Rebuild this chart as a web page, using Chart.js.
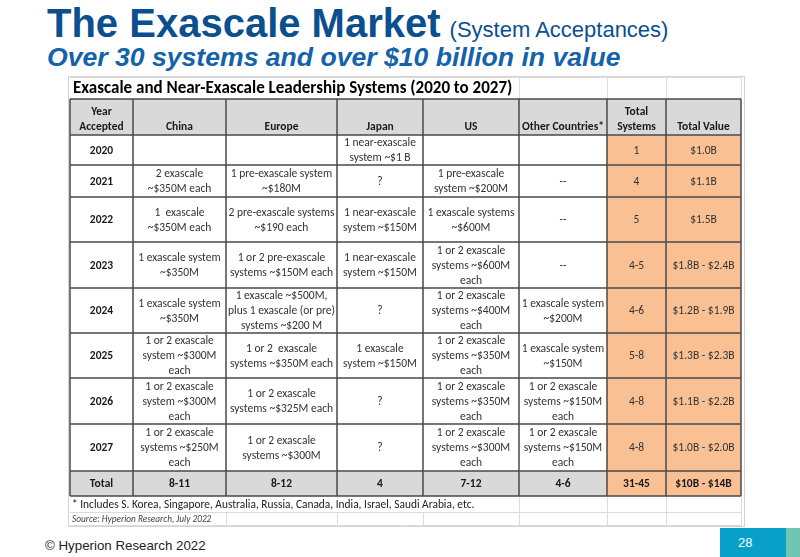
<!DOCTYPE html>
<html>
<head>
<meta charset="utf-8">
<script src="https://cdn.jsdelivr.net/npm/chart.js@4.4.1/dist/chart.umd.min.js"></script>
<style>
  html, body { margin: 0; padding: 0; background: #fff; }
  body { width: 800px; height: 557px; position: relative; overflow: hidden; font-family: "Liberation Sans", Arial, sans-serif; }
  #title { position: absolute; left: 47px; top: 1px; color: #0b4f8e; white-space: nowrap; }
  #title .big { font-weight: bold; font-size: 40px; }
  #title .small { font-size: 22px; margin-left: 9px; }
  #subtitle { position: absolute; left: 47px; top: 42px; color: #1462a9; font-weight: bold; font-style: italic; font-size: 26.6px; white-space: nowrap; }
  #wrap { position: absolute; left: 68px; top: 76px; width: 678px; height: 452px; }
  #footer { position: absolute; left: 45px; top: 538px; font-size: 13.3px; color: #222; font-family: "Liberation Sans Narrow", "Liberation Sans", Arial, sans-serif; }
  #page { position: absolute; left: 720px; top: 528px; width: 66px; height: 29px; background: #08a0c9; color: #fff; font-size: 13px; }
  #page span { position: absolute; left: 18px; top: 7px; }
  #strip { position: absolute; left: 786px; top: 528px; width: 14px; height: 29px; background: #6ec6b3; }
</style>
</head>
<body>
<div id="title"><span class="big">The Exascale Market</span><span class="small">(System Acceptances)</span></div>
<div id="subtitle">Over 30 systems and over $10 billion in value</div>
<div id="wrap"><canvas id="tbl"></canvas></div>
<div id="footer">© Hyperion Research 2022</div>
<div id="page"><span>28</span></div>
<div id="strip"></div>
<script>
// 表格标题
var tableTitle = "Exascale and Near-Exascale Leadership Systems (2020 to 2027)";
var footNote = "* Includes S. Korea, Singapore, Australia, Russia, Canada, India, Israel, Saudi Arabia, etc.";
var sourceNote = "Source: Hyperion Research, July 2022";

// 列标题
var columns = ["Year\nAccepted", "China", "Europe", "Japan", "US", "Other Countries*", "Total\nSystems", "Total Value"];
// 年份
var years = ["2020", "2021", "2022", "2023", "2024", "2025", "2026", "2027"];

var china = ["", "2 exascale\n~$350M each", "1  exascale\n~$350M each", "1 exascale system\n~$350M",
  "1 exascale system\n~$350M", "1 or 2 exascale\nsystem ~$300M\neach", "1 or 2 exascale\nsystem ~$300M\neach",
  "1 or 2 exascale\nsystems ~$250M\neach"];
var europe = ["", "1 pre-exascale system\n~$180M", "2 pre-exascale systems\n~$190 each",
  "1 or 2 pre-exascale\nsystems ~$150M each", "1 exascale ~$500M,\nplus 1 exascale (or pre)\nsystems ~$200 M",
  "1 or 2  exascale\nsystems ~$350M each", "1 or 2 exascale\nsystems ~$325M each", "1 or 2 exascale\nsystems ~$300M"];
var japan = ["1 near-exascale\nsystem ~$1 B", "?", "1 near-exascale\nsystem ~$150M", "1 near-exascale\nsystem ~$150M",
  "?", "1 exascale\nsystem ~$150M", "?", "?"];
var us = ["", "1 pre-exascale\nsystem ~$200M", "1 exascale systems\n~$600M", "1 or 2 exascale\nsystems ~$600M\neach",
  "1 or 2 exascale\nsystems ~$400M\neach", "1 or 2 exascale\nsystems ~$350M\neach", "1 or 2 exascale\nsystems ~$350M\neach",
  "1 or 2 exascale\nsystems ~$300M\neach"];
var otherCountries = ["", "--", "--", "--", "1 exascale system\n~$200M", "1 exascale system\n~$150M",
  "1 or 2 exascale\nsystems ~$150M\neach", "1 or 2 exascale\nsystems ~$150M\neach"];
var totalSystems = ["1", "4", "5", "4-5", "4-6", "5-8", "4-8", "4-8"];
var totalValue = ["$1.0B", "$1.1B", "$1.5B", "$1.8B - $2.4B", "$1.2B - $1.9B", "$1.3B - $2.3B", "$1.1B - $2.2B", "$1.0B - $2.0B"];
// 合计行
var totals = ["Total", "8-11", "8-12", "4", "7-12", "4-6", "31-45", "$10B - $14B"];

// 布局(列宽/行高)
var colWidths = [63, 93, 111, 86, 96, 88, 59, 75];
var rowHeights = { title: 22, header: 36, body: [30, 32, 45, 46, 45, 45, 46, 47], total: 25, foot: 16, source: 14 };
var offX = 2, offY = 1;
var tableFont = "Carlito, Lato, 'Open Sans', sans-serif";

var colEdges = [offX];
for (var i = 0; i < colWidths.length; i++) colEdges.push(colEdges[i] + colWidths[i]);
var rowEdges = [offY, offY + rowHeights.title, offY + rowHeights.title + rowHeights.header];
for (var i = 0; i < rowHeights.body.length; i++) rowEdges.push(rowEdges[rowEdges.length - 1] + rowHeights.body[i]);
rowEdges.push(rowEdges[rowEdges.length - 1] + rowHeights.total);
rowEdges.push(rowEdges[rowEdges.length - 1] + rowHeights.foot);
rowEdges.push(rowEdges[rowEdges.length - 1] + rowHeights.source);
// rowEdges: 0 title top,1 header top,2 body top,...,10 total top,11 foot top,12 source top,13 bottom

var bodyRows = [];
for (var r = 0; r < years.length; r++) {
  bodyRows.push([years[r], china[r], europe[r], japan[r], us[r], otherCountries[r], totalSystems[r], totalValue[r]]);
}

//画表格插件
var tablePlugin = {
  id: "tableDraw",
  afterDraw: function (chart) {
    var ctx = chart.ctx, xs = chart.scales.x, ys = chart.scales.y;
    var X = function (v) { return xs.getPixelForValue(v); };
    var Y = function (v) { return ys.getPixelForValue(v); };
    var nC = colEdges.length - 1;
    var hdrTop = rowEdges[1], bodyTop = rowEdges[2], totTop = rowEdges[10], totBot = rowEdges[11];
    ctx.save();
    // 外框
    ctx.strokeStyle = "#d4d4d4"; ctx.lineWidth = 1;
    ctx.strokeRect(X(0) + 0.5, Y(0) + 0.5, X(677) - X(0) - 1, Y(451) - Y(0) - 1);
    // 浅网格
    ctx.strokeStyle = "#dcdcdc";
    ctx.beginPath();
    ctx.moveTo(X(colEdges[0]), Y(rowEdges[0]) + 0.5); ctx.lineTo(X(colEdges[nC]), Y(rowEdges[0]) + 0.5);
    [5, 6, 7, 8].forEach(function (c) {
      ctx.moveTo(X(colEdges[c]) + 0.5, Y(rowEdges[0])); ctx.lineTo(X(colEdges[c]) + 0.5, Y(hdrTop));
      ctx.moveTo(X(colEdges[c]) + 0.5, Y(totBot)); ctx.lineTo(X(colEdges[c]) + 0.5, Y(rowEdges[13]));
    });
    [2, 3, 4].forEach(function (c) {
      ctx.moveTo(X(colEdges[c]) + 0.5, Y(rowEdges[12])); ctx.lineTo(X(colEdges[c]) + 0.5, Y(rowEdges[13]));
    });
    ctx.moveTo(X(colEdges[0]), Y(rowEdges[12]) + 0.5); ctx.lineTo(X(colEdges[nC]), Y(rowEdges[12]) + 0.5);
    ctx.moveTo(X(colEdges[0]), Y(rowEdges[13]) - 0.5); ctx.lineTo(X(colEdges[nC]), Y(rowEdges[13]) - 0.5);
    ctx.stroke();
    // 背景色
    ctx.fillStyle = "#d9d9d9";
    ctx.fillRect(X(colEdges[0]), Y(hdrTop), X(colEdges[nC]) - X(colEdges[0]), Y(bodyTop) - Y(hdrTop));
    ctx.fillRect(X(colEdges[0]), Y(totTop), X(colEdges[6]) - X(colEdges[0]), Y(totBot) - Y(totTop));
    ctx.fillStyle = "#f9c093";
    ctx.fillRect(X(colEdges[6]), Y(bodyTop), X(colEdges[8]) - X(colEdges[6]), Y(totBot) - Y(bodyTop));
    // 深色边框
    ctx.strokeStyle = "#4a4a4a"; ctx.lineWidth = 1.5;
    ctx.beginPath();
    for (var r = 1; r <= 11; r++) {
      ctx.moveTo(X(colEdges[0]), Y(rowEdges[r])); ctx.lineTo(X(colEdges[nC]), Y(rowEdges[r]));
    }
    for (var c = 0; c <= nC; c++) {
      ctx.moveTo(X(colEdges[c]), Y(hdrTop)); ctx.lineTo(X(colEdges[c]), Y(totBot));
    }
    ctx.stroke();
    // 文字
    ctx.textAlign = "left"; ctx.textBaseline = "middle";
    ctx.fillStyle = "#000";
    ctx.font = "bold 17px " + tableFont;
    ctx.fillText(tableTitle, X(colEdges[0]) + 3, (Y(rowEdges[0]) + Y(hdrTop)) / 2 + 1);
    ctx.textAlign = "center";
    var lh = 15;
    // 表头(底部对齐)
    ctx.font = "bold 11.5px " + tableFont; ctx.fillStyle = "#1a1a1a";
    columns.forEach(function (txt, c) {
      var lines = txt.split("\n");
      var cx = (X(colEdges[c]) + X(colEdges[c + 1])) / 2;
      var by = Y(bodyTop) - 8;
      for (var k = 0; k < lines.length; k++) {
        ctx.fillText(lines[k], cx, by - (lines.length - 1 - k) * lh);
      }
    });
    var drawCell = function (txt, c, top, bot) {
      var lines = txt.split("\n");
      var cx = (X(colEdges[c]) + X(colEdges[c + 1])) / 2;
      var cy = (Y(top) + Y(bot)) / 2 + 1;
      for (var k = 0; k < lines.length; k++) {
        ctx.fillText(lines[k], cx, cy + (k - (lines.length - 1) / 2) * lh);
      }
    };
    bodyRows.forEach(function (row, r) {
      row.forEach(function (txt, c) {
        if (c === 0) { ctx.font = "bold 11.5px " + tableFont; ctx.fillStyle = "#1a1a1a"; }
        else { ctx.font = "11.5px " + tableFont; ctx.fillStyle = "#333"; }
        drawCell(txt, c, rowEdges[2 + r], rowEdges[3 + r]);
      });
    });
    ctx.font = "bold 11.5px " + tableFont; ctx.fillStyle = "#1a1a1a";
    totals.forEach(function (txt, c) { drawCell(txt, c, totTop, totBot); });
    // 注释
    ctx.textAlign = "left"; ctx.fillStyle = "#222";
    ctx.font = "11.4px " + tableFont;
    ctx.fillText(footNote, X(colEdges[0]) + 2, (Y(totBot) + Y(rowEdges[12])) / 2 + 1);
    ctx.font = "italic 9.3px " + tableFont; ctx.fillStyle = "#444";
    ctx.fillText(sourceNote, X(colEdges[0]) + 2, (Y(rowEdges[12]) + Y(rowEdges[13])) / 2 + 1);
    ctx.restore();
  }
};

var ctx = document.getElementById("tbl").getContext("2d");
var tableChart = new Chart(ctx, {
  type: "scatter",
  data: { datasets: [{ data: [], pointRadius: 0 }] },
  options: {
    responsive: true,
    maintainAspectRatio: false,
    animation: false,
    layout: { padding: 0 },
    plugins: { legend: { display: false }, tooltip: { enabled: false } },
    scales: {
      x: { type: "linear", min: 0, max: 678, display: false },
      y: { type: "linear", min: 0, max: 452, reverse: true, display: false }
    }
  },
  plugins: [tablePlugin]
});
</script>
</body>
</html>
